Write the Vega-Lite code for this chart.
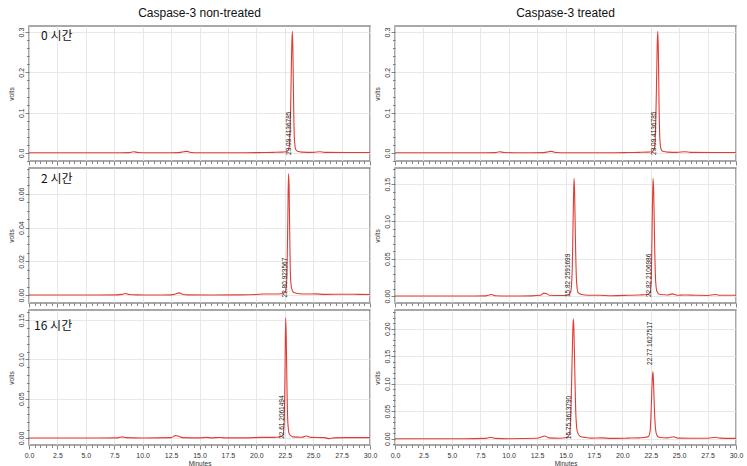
{
  "$schema": "https://vega.github.io/schema/vega-lite/v6.json",
  "background": "white",
  "padding": {"left": 7, "top": 6, "right": 5, "bottom": 3},
  "datasets": {
    "tl": [{"t":0,"v":0.0005},{"t":2,"v":0.0005},{"t":4,"v":0.0005},{"t":6,"v":0.0005},{"t":8,"v":0.0005},{"t":8.8,"v":0.0008},{"t":9.2,"v":0.003},{"t":9.6,"v":0.001},{"t":10.5,"v":0.0005},{"t":12,"v":0.0005},{"t":13.2,"v":0.0008},{"t":13.6,"v":0.003},{"t":13.9,"v":0.004},{"t":14.3,"v":0.001},{"t":15,"v":0.0005},{"t":17,"v":0.0005},{"t":19,"v":0.0005},{"t":20.5,"v":0.001},{"t":21.5,"v":0.0015},{"t":22.2,"v":0.002},{"t":22.6,"v":0.003},{"t":22.85,"v":0.008},{"t":22.95,"v":0.04},{"t":23.05,"v":0.16},{"t":23.12,"v":0.27},{"t":23.17,"v":0.302},{"t":23.22,"v":0.25},{"t":23.28,"v":0.12},{"t":23.35,"v":0.035},{"t":23.45,"v":0.01},{"t":23.6,"v":0.004},{"t":24,"v":0.002},{"t":25,"v":0.0015},{"t":25.6,"v":0.003},{"t":26,"v":0.0015},{"t":28,"v":0.001},{"t":30,"v":0.001}],
    "tr": [{"t":0,"v":0.0005},{"t":2,"v":0.0005},{"t":4,"v":0.0005},{"t":6,"v":0.0005},{"t":8,"v":0.0005},{"t":8.8,"v":0.0008},{"t":9.2,"v":0.003},{"t":9.6,"v":0.001},{"t":10.5,"v":0.0005},{"t":12,"v":0.0005},{"t":13.1,"v":0.0008},{"t":13.5,"v":0.003},{"t":13.75,"v":0.004},{"t":14.2,"v":0.001},{"t":15,"v":0.0005},{"t":17,"v":0.0005},{"t":19,"v":0.0005},{"t":20.5,"v":0.001},{"t":21.5,"v":0.0015},{"t":22.2,"v":0.002},{"t":22.6,"v":0.003},{"t":22.8,"v":0.008},{"t":22.9,"v":0.04},{"t":23.0,"v":0.16},{"t":23.07,"v":0.27},{"t":23.12,"v":0.302},{"t":23.17,"v":0.25},{"t":23.23,"v":0.12},{"t":23.3,"v":0.035},{"t":23.4,"v":0.01},{"t":23.55,"v":0.004},{"t":24,"v":0.002},{"t":24.8,"v":0.0015},{"t":25.5,"v":0.003},{"t":26,"v":0.0015},{"t":28,"v":0.001},{"t":30,"v":0.001}],
    "ml": [{"t":0,"v":0},{"t":2,"v":0},{"t":4,"v":0},{"t":6,"v":0},{"t":7.8,"v":0.0001},{"t":8.2,"v":0.0004},{"t":8.5,"v":0.0009},{"t":8.8,"v":0.0003},{"t":9.5,"v":0.0001},{"t":11,"v":0},{"t":12.5,"v":0.0001},{"t":12.9,"v":0.0006},{"t":13.2,"v":0.0013},{"t":13.5,"v":0.0005},{"t":14,"v":0.0001},{"t":16,"v":0},{"t":18,"v":0.0001},{"t":20,"v":0.0003},{"t":20.5,"v":0.0006},{"t":21.5,"v":0.0006},{"t":22.2,"v":0.0008},{"t":22.5,"v":0.0015},{"t":22.62,"v":0.004},{"t":22.7,"v":0.015},{"t":22.77,"v":0.045},{"t":22.83,"v":0.072},{"t":22.88,"v":0.065},{"t":22.94,"v":0.035},{"t":23.0,"v":0.012},{"t":23.1,"v":0.004},{"t":23.3,"v":0.0015},{"t":23.8,"v":0.0008},{"t":24.5,"v":0.0006},{"t":25.2,"v":0.0007},{"t":26,"v":0.0004},{"t":28,"v":0.0005},{"t":29,"v":0.0004},{"t":30,"v":0.0003}],
    "mr": [{"t":0,"v":0},{"t":3,"v":0},{"t":6,"v":0},{"t":8.0,"v":0.0003},{"t":8.3,"v":0.0015},{"t":8.5,"v":0.002},{"t":8.8,"v":0.0005},{"t":10,"v":0},{"t":12,"v":0.0003},{"t":12.8,"v":0.001},{"t":13.1,"v":0.004},{"t":13.3,"v":0.0035},{"t":13.6,"v":0.001},{"t":14.5,"v":0.0007},{"t":15.2,"v":0.0015},{"t":15.45,"v":0.005},{"t":15.58,"v":0.03},{"t":15.68,"v":0.11},{"t":15.75,"v":0.158},{"t":15.8,"v":0.14},{"t":15.88,"v":0.07},{"t":15.97,"v":0.02},{"t":16.1,"v":0.005},{"t":16.4,"v":0.002},{"t":17,"v":0.001},{"t":18,"v":0.001},{"t":19,"v":0.0005},{"t":20.5,"v":0.001},{"t":21.5,"v":0.0015},{"t":22.2,"v":0.002},{"t":22.45,"v":0.005},{"t":22.55,"v":0.025},{"t":22.63,"v":0.1},{"t":22.7,"v":0.158},{"t":22.76,"v":0.14},{"t":22.84,"v":0.07},{"t":22.93,"v":0.02},{"t":23.05,"v":0.006},{"t":23.3,"v":0.002},{"t":24.0,"v":0.0015},{"t":24.4,"v":0.003},{"t":24.8,"v":0.001},{"t":25.5,"v":0.0015},{"t":26.5,"v":0.001},{"t":27.5,"v":0.0008},{"t":28.2,"v":0.002},{"t":28.6,"v":0.001},{"t":30,"v":0.001}],
    "bl": [{"t":0,"v":0},{"t":3,"v":0},{"t":6,"v":0},{"t":7.8,"v":0.0002},{"t":8.2,"v":0.0015},{"t":8.5,"v":0.0005},{"t":10,"v":0},{"t":12.5,"v":0.0005},{"t":12.9,"v":0.003},{"t":13.1,"v":0.0025},{"t":13.5,"v":0.0005},{"t":15,"v":0.0002},{"t":15.6,"v":0.0008},{"t":16,"v":0.0002},{"t":16.8,"v":0.0007},{"t":17.2,"v":0.0002},{"t":19,"v":0.0002},{"t":20.5,"v":0.0008},{"t":21.5,"v":0.0008},{"t":22.1,"v":0.0015},{"t":22.35,"v":0.004},{"t":22.45,"v":0.02},{"t":22.52,"v":0.08},{"t":22.58,"v":0.153},{"t":22.63,"v":0.13},{"t":22.7,"v":0.06},{"t":22.78,"v":0.018},{"t":22.9,"v":0.005},{"t":23.2,"v":0.0015},{"t":24.0,"v":0.001},{"t":24.4,"v":0.0025},{"t":24.8,"v":0.0008},{"t":26,"v":0.0005},{"t":26.4,"v":-0.0008},{"t":26.8,"v":0.0002},{"t":28,"v":0.0005},{"t":30,"v":0.0005}],
    "br": [{"t":0,"v":0},{"t":3,"v":0},{"t":6,"v":0},{"t":8.0,"v":0.0005},{"t":8.4,"v":0.0025},{"t":8.8,"v":0.0005},{"t":10,"v":0},{"t":12.5,"v":0.0008},{"t":13.0,"v":0.004},{"t":13.2,"v":0.005},{"t":13.5,"v":0.0015},{"t":14.5,"v":0.0008},{"t":15.1,"v":0.002},{"t":15.35,"v":0.008},{"t":15.48,"v":0.05},{"t":15.6,"v":0.16},{"t":15.68,"v":0.218},{"t":15.74,"v":0.2},{"t":15.82,"v":0.12},{"t":15.92,"v":0.04},{"t":16.05,"v":0.012},{"t":16.3,"v":0.004},{"t":16.8,"v":0.002},{"t":17.2,"v":0.001},{"t":18.2,"v":0.0015},{"t":19,"v":0.0005},{"t":20.5,"v":0.001},{"t":21.5,"v":0.0015},{"t":21.9,"v":0.002},{"t":22.3,"v":0.004},{"t":22.45,"v":0.015},{"t":22.55,"v":0.06},{"t":22.64,"v":0.11},{"t":22.69,"v":0.122},{"t":22.74,"v":0.105},{"t":22.82,"v":0.055},{"t":22.92,"v":0.018},{"t":23.05,"v":0.006},{"t":23.3,"v":0.002},{"t":24.0,"v":0.0015},{"t":24.5,"v":0.0035},{"t":24.9,"v":0.001},{"t":26,"v":0.0008},{"t":27.5,"v":0.0008},{"t":28.2,"v":0.0025},{"t":28.6,"v":0.001},{"t":30,"v":0.0005}],
    "labels": [
      {"panel":"tl","t":22.85,"v":-0.005,"text":"23.09  4136785"},
      {"panel":"tr","t":22.8,"v":-0.005,"text":"23.09  4136785"},
      {"panel":"ml","t":22.5,"v":-0.0014,"text":"22.80  923567"},
      {"panel":"mr","t":15.26,"v":-0.0013,"text":"15.82  2591699"},
      {"panel":"mr","t":22.37,"v":-0.0013,"text":"22.82  2106986"},
      {"panel":"bl","t":22.3,"v":-0.001,"text":"22.61  2061494"},
      {"panel":"br","t":15.35,"v":-0.001,"text":"15.75  3613790"},
      {"panel":"br","t":22.46,"v":0.134,"text":"22.77  1627517"}
    ],
    "times": [
      {"panel":"tl","t":1.06,"v":0.29,"text":"0 시간"},
      {"panel":"ml","t":1.06,"v":0.0688,"text":"2 시간"},
      {"panel":"bl","t":0.45,"v":0.143,"text":"16 시간"}
    ]
  },
  "config": {
    "font": "Liberation Sans",
    "view": {"stroke": "#8c8c8c", "strokeWidth": 1.5},
    "axis": {"labelFont": "Liberation Sans", "labelFontSize": 7, "labelColor": "#333333", "titleFont": "Liberation Sans", "titleFontSize": 6.5, "titleFontWeight": "normal", "titleColor": "#333333", "gridColor": "#e2e2e2", "gridWidth": 0.8, "tickColor": "#666666", "tickWidth": 0.8, "domain": false, "labelPadding": 1, "titlePadding": 3, "tickCount": 200}
  },
  "columns": 2,
  "spacing": {"row": 7, "column": 25},
  "bounds": "flush",
  "concat": [
        {
          "width": 341, "height": 135,
          "title": {"text": "Caspase-3 non-treated", "fontSize": 12, "font": "Liberation Sans", "fontWeight": "normal", "offset": 6, "anchor": "middle", "color": "#111111"},
          "layer": [
            {"data": {"name": "tl"}, "mark": {"type": "line", "color": "#e33b35", "strokeWidth": 1.1, "interpolate": "monotone"},
             "encoding": {
               "x": {"field": "t", "type": "quantitative", "scale": {"domain": [0, 30], "nice": false, "zero": false},
                     "axis": {"tickCount": 200, "values": [0,0.5,1,1.5,2,2.5,3,3.5,4,4.5,5,5.5,6,6.5,7,7.5,8,8.5,9,9.5,10,10.5,11,11.5,12,12.5,13,13.5,14,14.5,15,15.5,16,16.5,17,17.5,18,18.5,19,19.5,20,20.5,21,21.5,22,22.5,23,23.5,24,24.5,25,25.5,26,26.5,27,27.5,28,28.5,29,29.5,30], "labels": false, "title": null,
                              "tickSize": {"condition": {"test": "datum.value % 2.5 === 0", "value": 4}, "value": 2.5},
                              "gridOpacity": {"condition": {"test": "datum.value % 2.5 === 0", "value": 1}, "value": 0}}},
               "y": {"field": "v", "type": "quantitative", "scale": {"domain": [-0.02, 0.315], "nice": false, "zero": false},
                     "axis": {"tickCount": 200, "values": [-0.02,0,0.02,0.04,0.06,0.08,0.1,0.12,0.14,0.16,0.18,0.2,0.22,0.24,0.26,0.28,0.3], "title": "volts", "labelAngle": 270, "labelOverlap": false, "labelFlush": false,
                              "labelExpr": "abs(datum.value*10-round(datum.value*10))<1e-6 ? format(datum.value,'.1f') : ''",
                              "tickSize": {"condition": {"test": "abs(datum.value*10-round(datum.value*10))<1e-6", "value": 4}, "value": 2.5},
                              "gridOpacity": {"condition": {"test": "abs(datum.value*10-round(datum.value*10))<1e-6", "value": 1}, "value": 0}}}
             }},
            {"data": {"name": "labels"}, "transform": [{"filter": "datum.panel === 'tl'"}],
             "mark": {"type": "text", "angle": 270, "align": "left", "baseline": "middle", "fontSize": 6.5, "color": "#222222"},
             "encoding": {"x": {"field": "t", "type": "quantitative"}, "y": {"field": "v", "type": "quantitative"}, "text": {"field": "text"}}},
            {"data": {"name": "times"}, "transform": [{"filter": "datum.panel === 'tl'"}],
             "mark": {"type": "text", "align": "left", "baseline": "middle", "fontSize": 12, "font": "Noto Sans CJK KR", "color": "#111111"},
             "encoding": {"x": {"field": "t", "type": "quantitative"}, "y": {"field": "v", "type": "quantitative"}, "text": {"field": "text"}}}
          ]
        },
        {
          "width": 341, "height": 135,
          "title": {"text": "Caspase-3 treated", "fontSize": 12, "font": "Liberation Sans", "fontWeight": "normal", "offset": 6, "anchor": "middle", "color": "#111111"},
          "layer": [
            {"data": {"name": "tr"}, "mark": {"type": "line", "color": "#e33b35", "strokeWidth": 1.1, "interpolate": "monotone"},
             "encoding": {
               "x": {"field": "t", "type": "quantitative", "scale": {"domain": [0, 30], "nice": false, "zero": false},
                     "axis": {"tickCount": 200, "values": [0,0.5,1,1.5,2,2.5,3,3.5,4,4.5,5,5.5,6,6.5,7,7.5,8,8.5,9,9.5,10,10.5,11,11.5,12,12.5,13,13.5,14,14.5,15,15.5,16,16.5,17,17.5,18,18.5,19,19.5,20,20.5,21,21.5,22,22.5,23,23.5,24,24.5,25,25.5,26,26.5,27,27.5,28,28.5,29,29.5,30], "labels": false, "title": null,
                              "tickSize": {"condition": {"test": "datum.value % 2.5 === 0", "value": 4}, "value": 2.5},
                              "gridOpacity": {"condition": {"test": "datum.value % 2.5 === 0", "value": 1}, "value": 0}}},
               "y": {"field": "v", "type": "quantitative", "scale": {"domain": [-0.02, 0.315], "nice": false, "zero": false},
                     "axis": {"tickCount": 200, "values": [-0.02,0,0.02,0.04,0.06,0.08,0.1,0.12,0.14,0.16,0.18,0.2,0.22,0.24,0.26,0.28,0.3], "title": "volts", "labelAngle": 270, "labelOverlap": false, "labelFlush": false,
                              "labelExpr": "abs(datum.value*10-round(datum.value*10))<1e-6 ? format(datum.value,'.1f') : ''",
                              "tickSize": {"condition": {"test": "abs(datum.value*10-round(datum.value*10))<1e-6", "value": 4}, "value": 2.5},
                              "gridOpacity": {"condition": {"test": "abs(datum.value*10-round(datum.value*10))<1e-6", "value": 1}, "value": 0}}}
             }},
            {"data": {"name": "labels"}, "transform": [{"filter": "datum.panel === 'tr'"}],
             "mark": {"type": "text", "angle": 270, "align": "left", "baseline": "middle", "fontSize": 6.5, "color": "#222222"},
             "encoding": {"x": {"field": "t", "type": "quantitative"}, "y": {"field": "v", "type": "quantitative"}, "text": {"field": "text"}}}
          ]
        },
        {
          "width": 341, "height": 135,
          "layer": [
            {"data": {"name": "ml"}, "mark": {"type": "line", "color": "#e33b35", "strokeWidth": 1.1, "interpolate": "monotone"},
             "encoding": {
               "x": {"field": "t", "type": "quantitative", "scale": {"domain": [0, 30], "nice": false, "zero": false},
                     "axis": {"tickCount": 200, "values": [0,0.5,1,1.5,2,2.5,3,3.5,4,4.5,5,5.5,6,6.5,7,7.5,8,8.5,9,9.5,10,10.5,11,11.5,12,12.5,13,13.5,14,14.5,15,15.5,16,16.5,17,17.5,18,18.5,19,19.5,20,20.5,21,21.5,22,22.5,23,23.5,24,24.5,25,25.5,26,26.5,27,27.5,28,28.5,29,29.5,30], "labels": false, "title": null,
                              "tickSize": {"condition": {"test": "datum.value % 2.5 === 0", "value": 4}, "value": 2.5},
                              "gridOpacity": {"condition": {"test": "datum.value % 2.5 === 0", "value": 1}, "value": 0}}},
               "y": {"field": "v", "type": "quantitative", "scale": {"domain": [-0.0047, 0.0753], "nice": false, "zero": false},
                     "axis": {"tickCount": 200, "values": [0,0.005,0.01,0.015,0.02,0.025,0.03,0.035,0.04,0.045,0.05,0.055,0.06,0.065,0.07,0.075], "title": "volts", "labelAngle": 270, "labelOverlap": false, "labelFlush": false,
                              "labelExpr": "abs(datum.value*50-round(datum.value*50))<1e-6 ? format(datum.value,'.2f') : ''",
                              "tickSize": {"condition": {"test": "abs(datum.value*50-round(datum.value*50))<1e-6", "value": 4}, "value": 2.5},
                              "gridOpacity": {"condition": {"test": "abs(datum.value*50-round(datum.value*50))<1e-6", "value": 1}, "value": 0}}}
             }},
            {"data": {"name": "labels"}, "transform": [{"filter": "datum.panel === 'ml'"}],
             "mark": {"type": "text", "angle": 270, "align": "left", "baseline": "middle", "fontSize": 6.5, "color": "#222222"},
             "encoding": {"x": {"field": "t", "type": "quantitative"}, "y": {"field": "v", "type": "quantitative"}, "text": {"field": "text"}}},
            {"data": {"name": "times"}, "transform": [{"filter": "datum.panel === 'ml'"}],
             "mark": {"type": "text", "align": "left", "baseline": "middle", "fontSize": 12, "font": "Noto Sans CJK KR", "color": "#111111"},
             "encoding": {"x": {"field": "t", "type": "quantitative"}, "y": {"field": "v", "type": "quantitative"}, "text": {"field": "text"}}}
          ]
        },
        {
          "width": 341, "height": 135,
          "layer": [
            {"data": {"name": "mr"}, "mark": {"type": "line", "color": "#e33b35", "strokeWidth": 1.1, "interpolate": "monotone"},
             "encoding": {
               "x": {"field": "t", "type": "quantitative", "scale": {"domain": [0, 30], "nice": false, "zero": false},
                     "axis": {"tickCount": 200, "values": [0,0.5,1,1.5,2,2.5,3,3.5,4,4.5,5,5.5,6,6.5,7,7.5,8,8.5,9,9.5,10,10.5,11,11.5,12,12.5,13,13.5,14,14.5,15,15.5,16,16.5,17,17.5,18,18.5,19,19.5,20,20.5,21,21.5,22,22.5,23,23.5,24,24.5,25,25.5,26,26.5,27,27.5,28,28.5,29,29.5,30], "labels": false, "title": null,
                              "tickSize": {"condition": {"test": "datum.value % 2.5 === 0", "value": 4}, "value": 2.5},
                              "gridOpacity": {"condition": {"test": "datum.value % 2.5 === 0", "value": 1}, "value": 0}}},
               "y": {"field": "v", "type": "quantitative", "scale": {"domain": [-0.0093, 0.1717], "nice": false, "zero": false},
                     "axis": {"tickCount": 200, "values": [0,0.01,0.02,0.03,0.04,0.05,0.06,0.07,0.08,0.09,0.1,0.11,0.12,0.13,0.14,0.15,0.16,0.17], "title": "volts", "labelAngle": 270, "labelOverlap": false, "labelFlush": false,
                              "labelExpr": "abs(datum.value*20-round(datum.value*20))<1e-6 ? format(datum.value,'.2f') : ''",
                              "tickSize": {"condition": {"test": "abs(datum.value*20-round(datum.value*20))<1e-6", "value": 4}, "value": 2.5},
                              "gridOpacity": {"condition": {"test": "abs(datum.value*20-round(datum.value*20))<1e-6", "value": 1}, "value": 0}}}
             }},
            {"data": {"name": "labels"}, "transform": [{"filter": "datum.panel === 'mr'"}],
             "mark": {"type": "text", "angle": 270, "align": "left", "baseline": "middle", "fontSize": 6.5, "color": "#222222"},
             "encoding": {"x": {"field": "t", "type": "quantitative"}, "y": {"field": "v", "type": "quantitative"}, "text": {"field": "text"}}}
          ]
        },
        {
          "width": 341, "height": 135,
          "layer": [
            {"data": {"name": "bl"}, "mark": {"type": "line", "color": "#e33b35", "strokeWidth": 1.1, "interpolate": "monotone"},
             "encoding": {
               "x": {"field": "t", "type": "quantitative", "scale": {"domain": [0, 30], "nice": false, "zero": false},
                     "axis": {"tickCount": 200, "values": [0,0.5,1,1.5,2,2.5,3,3.5,4,4.5,5,5.5,6,6.5,7,7.5,8,8.5,9,9.5,10,10.5,11,11.5,12,12.5,13,13.5,14,14.5,15,15.5,16,16.5,17,17.5,18,18.5,19,19.5,20,20.5,21,21.5,22,22.5,23,23.5,24,24.5,25,25.5,26,26.5,27,27.5,28,28.5,29,29.5,30], "title": "Minutes", "labelOverlap": false, "labelFlush": false, "labelPadding": 2, "titlePadding": 2,
                              "labelExpr": "datum.value % 2.5 === 0 ? format(datum.value,'.1f') : ''",
                              "tickSize": {"condition": {"test": "datum.value % 2.5 === 0", "value": 4}, "value": 2.5},
                              "gridOpacity": {"condition": {"test": "datum.value % 2.5 === 0", "value": 1}, "value": 0}}},
               "y": {"field": "v", "type": "quantitative", "scale": {"domain": [-0.0089, 0.163], "nice": false, "zero": false},
                     "axis": {"tickCount": 200, "values": [0,0.01,0.02,0.03,0.04,0.05,0.06,0.07,0.08,0.09,0.1,0.11,0.12,0.13,0.14,0.15,0.16], "title": "volts", "labelAngle": 270, "labelOverlap": false, "labelFlush": false,
                              "labelExpr": "abs(datum.value*20-round(datum.value*20))<1e-6 ? format(datum.value,'.2f') : ''",
                              "tickSize": {"condition": {"test": "abs(datum.value*20-round(datum.value*20))<1e-6", "value": 4}, "value": 2.5},
                              "gridOpacity": {"condition": {"test": "abs(datum.value*20-round(datum.value*20))<1e-6", "value": 1}, "value": 0}}}
             }},
            {"data": {"name": "labels"}, "transform": [{"filter": "datum.panel === 'bl'"}],
             "mark": {"type": "text", "angle": 270, "align": "left", "baseline": "middle", "fontSize": 6.5, "color": "#222222"},
             "encoding": {"x": {"field": "t", "type": "quantitative"}, "y": {"field": "v", "type": "quantitative"}, "text": {"field": "text"}}},
            {"data": {"name": "times"}, "transform": [{"filter": "datum.panel === 'bl'"}],
             "mark": {"type": "text", "align": "left", "baseline": "middle", "fontSize": 12, "font": "Noto Sans CJK KR", "color": "#111111"},
             "encoding": {"x": {"field": "t", "type": "quantitative"}, "y": {"field": "v", "type": "quantitative"}, "text": {"field": "text"}}}
          ]
        },
        {
          "width": 341, "height": 135,
          "layer": [
            {"data": {"name": "br"}, "mark": {"type": "line", "color": "#e33b35", "strokeWidth": 1.1, "interpolate": "monotone"},
             "encoding": {
               "x": {"field": "t", "type": "quantitative", "scale": {"domain": [0, 30], "nice": false, "zero": false},
                     "axis": {"tickCount": 200, "values": [0,0.5,1,1.5,2,2.5,3,3.5,4,4.5,5,5.5,6,6.5,7,7.5,8,8.5,9,9.5,10,10.5,11,11.5,12,12.5,13,13.5,14,14.5,15,15.5,16,16.5,17,17.5,18,18.5,19,19.5,20,20.5,21,21.5,22,22.5,23,23.5,24,24.5,25,25.5,26,26.5,27,27.5,28,28.5,29,29.5,30], "title": "Minutes", "labelOverlap": false, "labelFlush": false, "labelPadding": 2, "titlePadding": 2,
                              "labelExpr": "datum.value % 2.5 === 0 ? format(datum.value,'.1f') : ''",
                              "tickSize": {"condition": {"test": "datum.value % 2.5 === 0", "value": 4}, "value": 2.5},
                              "gridOpacity": {"condition": {"test": "datum.value % 2.5 === 0", "value": 1}, "value": 0}}},
               "y": {"field": "v", "type": "quantitative", "scale": {"domain": [-0.0115, 0.234], "nice": false, "zero": false},
                     "axis": {"tickCount": 200, "values": [-0.01,0,0.01,0.02,0.03,0.04,0.05,0.06,0.07,0.08,0.09,0.1,0.11,0.12,0.13,0.14,0.15,0.16,0.17,0.18,0.19,0.2,0.21,0.22,0.23], "title": "volts", "labelAngle": 270, "labelOverlap": false, "labelFlush": false,
                              "labelExpr": "abs(datum.value*20-round(datum.value*20))<1e-6 ? format(datum.value,'.2f') : ''",
                              "tickSize": {"condition": {"test": "abs(datum.value*20-round(datum.value*20))<1e-6", "value": 4}, "value": 2.5},
                              "gridOpacity": {"condition": {"test": "abs(datum.value*20-round(datum.value*20))<1e-6", "value": 1}, "value": 0}}}
             }},
            {"data": {"name": "labels"}, "transform": [{"filter": "datum.panel === 'br'"}],
             "mark": {"type": "text", "angle": 270, "align": "left", "baseline": "middle", "fontSize": 6.5, "color": "#222222"},
             "encoding": {"x": {"field": "t", "type": "quantitative"}, "y": {"field": "v", "type": "quantitative"}, "text": {"field": "text"}}}
          ]
        }
  ]
}
